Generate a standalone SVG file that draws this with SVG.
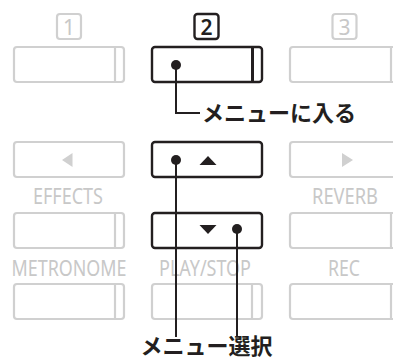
<svg xmlns="http://www.w3.org/2000/svg" width="393" height="358" viewBox="0 0 393 358">
<style>
.g{fill:#fff;stroke:#d0d0d0;stroke-width:2.2}
.gl{stroke:#d0d0d0;stroke-width:2.2}
.d{fill:#fff;stroke:#231f20;stroke-width:2.4}
.lbl{font-family:"Noto Sans","Open Sans",sans-serif;font-size:21px;fill:#c8c8c8;text-anchor:middle}
.num{font-family:"Noto Sans","Open Sans",sans-serif;font-size:21px;text-anchor:middle}
.jp{font-family:"Noto Sans CJK JP","Noto Sans",sans-serif;font-size:22px;font-weight:700;fill:#231f20}
.c{fill:none;stroke:#231f20;stroke-width:2}
.dot{fill:#231f20}
</style>
<g id="label1"><rect x="57" y="14" width="24" height="25" rx="3" class="g"/><text x="69" y="34.5" class="num" fill="#c8c8c8">1</text></g>
<g id="label2"><rect x="194.5" y="14" width="24" height="25" rx="3" class="d"/><text x="206.5" y="34.5" class="num" fill="#231f20" font-weight="600">2</text></g>
<g id="label3"><rect x="332.5" y="14" width="24" height="25" rx="3" class="g"/><text x="344.5" y="34.5" class="num" fill="#c8c8c8">3</text></g>

<g id="btn-l1"><rect x="14" y="47" width="110" height="35" rx="3" class="g"/><line x1="115" y1="47" x2="115" y2="82" class="gl"/></g>
<g id="btn-m1"><rect x="152" y="47" width="110" height="35" rx="3" class="d"/><line x1="252.5" y1="47" x2="252.5" y2="82" stroke="#231f20" stroke-width="3"/></g>
<g id="btn-r1"><rect x="290" y="47" width="110" height="35" rx="3" class="g"/><line x1="391" y1="47" x2="391" y2="82" class="gl"/></g>

<g id="btn-l2"><rect x="14" y="142" width="110" height="35" rx="3" class="g"/><polygon points="62,160 72.5,153 72.5,167" fill="#d0d0d0"/></g>
<g id="btn-m2"><rect x="152" y="142" width="110" height="35" rx="3" class="d"/><polygon points="199.5,165 216.5,165 208,156" fill="#231f20"/></g>
<g id="btn-r2"><rect x="290" y="142" width="110" height="35" rx="3" class="g"/><polygon points="342,153 342,167 353,160" fill="#d0d0d0"/></g>

<g id="effects"><text x="68" y="203.5" class="lbl" textLength="70" lengthAdjust="spacingAndGlyphs">EFFECTS</text></g>
<g id="reverb"><text x="345" y="203.5" class="lbl" textLength="66" lengthAdjust="spacingAndGlyphs">REVERB</text></g>

<g id="btn-l3"><rect x="14" y="213" width="110" height="35" rx="3" class="g"/><line x1="115" y1="213" x2="115" y2="248" class="gl"/></g>
<g id="btn-m3"><rect x="152" y="213" width="110" height="35" rx="3" class="d"/><polygon points="199.5,225 216.5,225 208,234" fill="#231f20"/></g>
<g id="btn-r3"><rect x="290" y="213" width="110" height="35" rx="3" class="g"/><line x1="391" y1="213" x2="391" y2="248" class="gl"/></g>

<g id="metronome"><text x="69" y="275.5" class="lbl" textLength="115" lengthAdjust="spacingAndGlyphs">METRONOME</text></g>
<g id="playstop"><text x="205" y="275.5" class="lbl" textLength="92" lengthAdjust="spacingAndGlyphs">PLAY/STOP</text></g>
<g id="rec"><text x="344" y="275.5" class="lbl" textLength="32" lengthAdjust="spacingAndGlyphs">REC</text></g>

<g id="btn-l4"><rect x="14" y="284" width="110" height="35" rx="3" class="g"/><line x1="115" y1="284" x2="115" y2="319" class="gl"/></g>
<g id="btn-m4"><rect x="152" y="284" width="110" height="35" rx="3" class="g"/><line x1="252" y1="284" x2="252" y2="319" class="gl"/></g>
<g id="btn-r4"><rect x="290" y="284" width="110" height="35" rx="3" class="g"/><line x1="391" y1="284" x2="391" y2="319" class="gl"/></g>

<g id="connectors">
<polyline points="176,65 176,113 200,113" class="c"/>
<line x1="176" y1="160" x2="176" y2="337" class="c"/>
<line x1="237" y1="229" x2="237" y2="337" class="c"/>
<circle cx="176" cy="65" r="5" class="dot"/>
<circle cx="176" cy="160" r="5" class="dot"/>
<circle cx="237" cy="229" r="5" class="dot"/>
</g>

<g id="text-enter"><text x="202" y="121" class="jp">メニューに入る</text></g>
<g id="text-select"><text x="140.5" y="353.5" class="jp">メニュー選択</text></g>
</svg>
